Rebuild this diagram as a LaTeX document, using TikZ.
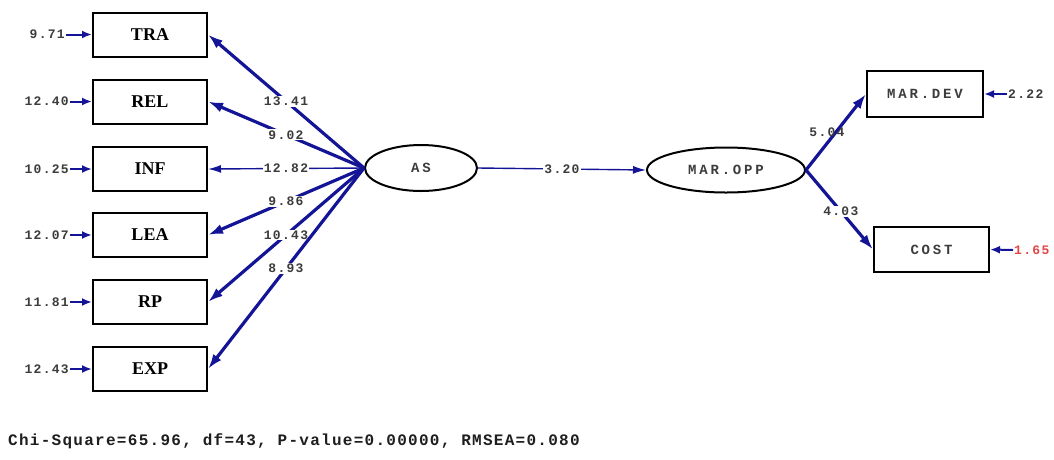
\documentclass[tikz,border=0pt]{standalone}
\usepackage{fontspec}
\setmainfont{Liberation Serif}
\newfontfamily\monof[LetterSpace=10]{Liberation Mono}
\newfontfamily\monow[LetterSpace=20]{Liberation Mono}
\newfontfamily\monob[LetterSpace=8]{Liberation Mono}
\usetikzlibrary{arrows.meta,shapes.geometric}
\definecolor{navy}{RGB}{20,20,150}
\definecolor{lab}{RGB}{60,60,60}
\definecolor{redlab}{RGB}{225,70,70}
\begin{document}
\begin{tikzpicture}[x=1pt,y=-1pt,
  obs/.style={draw=black,line width=2pt,minimum width=114pt,minimum height=44pt,inner sep=0pt,
    font=\fontsize{18}{18}\selectfont\bfseries},
  obsm/.style={obs,font=\monow\fontsize{14}{14}\selectfont\bfseries,text=lab},
  lat/.style={ellipse,draw=black,line width=2pt,inner sep=0pt,
    font=\monow\fontsize{14}{14}\selectfont\bfseries,text=lab},
  pth/.style={draw=navy,line width=3.2pt,-{Latex[length=15pt,width=10pt]}},
  thinpth/.style={draw=navy,line width=1.4pt,-{Latex[length=13pt,width=8pt]}},
  errarr/.style={draw=navy,line width=2pt,-{Latex[length=10pt,width=8pt]}},
  coef/.style={fill=white,inner sep=1pt,text=lab,font=\monof\fontsize{13}{13}\selectfont\bfseries},
  err/.style={text=lab,inner sep=1pt,font=\monof\fontsize{13}{13}\selectfont\bfseries}
]
\useasboundingbox (0,0) rectangle (1054,459);

\node[obs] (TRA) at (150,34.5) {TRA};
\node[obs] (REL) at (150,101.5) {REL};
\node[obs] (INF) at (150,169) {INF};
\node[obs] (LEA) at (150,235) {LEA};
\node[obs] (RP)  at (150,302) {RP};
\node[obs] (EXP) at (150,369) {EXP};

\node[lat,minimum width=112pt,minimum height=46pt] (AS) at (421,168) {AS};
\node[lat,minimum width=158pt,minimum height=45pt] (OPP) at (726,170) {MAR.OPP};

\node[obsm,minimum width=116pt,minimum height=46pt] (DEV) at (925,94) {MAR.DEV};
\node[obsm,minimum width=115pt,minimum height=45pt] (COST) at (931.5,249.5) {COST};

% error terms
\node[err,anchor=east] (eTRA) at (66,34.5) {9.71};
\node[err,anchor=east] (eREL) at (70,101.5) {12.40};
\node[err,anchor=east] (eINF) at (70,169) {10.25};
\node[err,anchor=east] (eLEA) at (70,235) {12.07};
\node[err,anchor=east] (eRP)  at (70,302) {11.81};
\node[err,anchor=east] (eEXP) at (70,369) {12.43};
\node[err,anchor=west] (eDEV) at (1007,94) {2.22};
\node[err,anchor=west,text=redlab] (eCOST) at (1013,250) {1.65};

\foreach \e/\b in {eTRA/TRA,eREL/REL,eINF/INF,eLEA/LEA,eRP/RP,eEXP/EXP}
  \draw[errarr] (\e.east) -- (\b.west);
\draw[errarr] (eDEV.west) -- (DEV.east);
\draw[errarr] (eCOST.west) -- (COST.east);

% loadings
\draw[pth] (AS.west) -- node[coef,pos=0.5] {13.41} (TRA.east);
\draw[pth] (AS.west) -- node[coef,pos=0.5] {9.02} (REL.east);
\draw[thinpth] (AS.west) -- node[coef,pos=0.5] {12.82} (INF.east);
\draw[pth] (AS.west) -- node[coef,pos=0.5] {9.86} (LEA.east);
\draw[pth] (AS.west) -- node[coef,pos=0.5] {10.43} (RP.east);
\draw[pth] (AS.west) -- node[coef,pos=0.5] {8.93} (EXP.east);

\draw[thinpth] (AS.east) -- node[coef,pos=0.5] {3.20} (OPP.west);

\draw[pth] (OPP.east) -- node[coef,pos=0.5,fill=none,xshift=-9pt] {5.04} (DEV.west);
\draw[pth] (OPP.east) -- node[coef,pos=0.52] {4.03} (COST.west);

\node[anchor=west,inner sep=0pt,text={rgb,255:red,30;green,30;blue,30},font=\monob\fontsize{16}{16}\selectfont\bfseries] (fit) at (8,441)
  {Chi-Square=65.96, df=43, P-value=0.00000, RMSEA=0.080};
\end{tikzpicture}
\end{document}
